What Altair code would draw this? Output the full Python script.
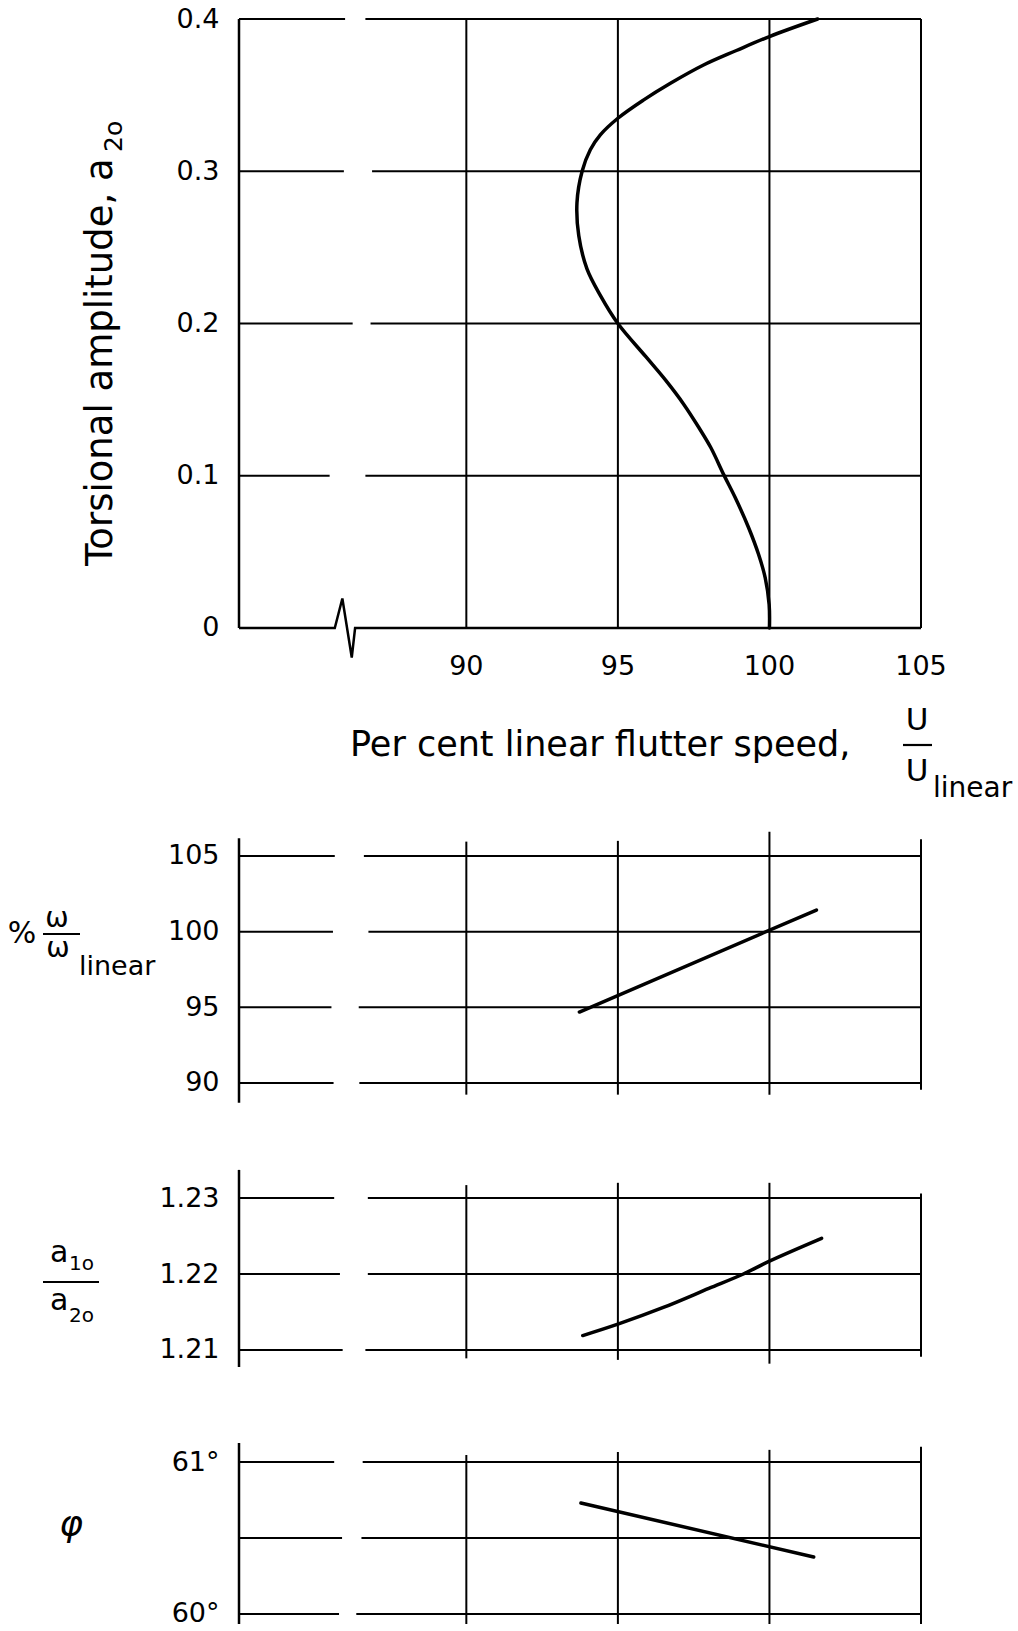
import altair as alt
import pandas as pd

FONT = "DejaVu Sans"

# ---------------- shared x (per cent linear flutter speed) ----------------
X_DOMAIN = [82.5, 105.0]
X_GRID = [90, 95, 100, 105]
X_TICK_TEXT = ["90", "95", "100", "105"]

# ---------------- panel 1: torsional amplitude ----------------
AMP_SPEED = [100.0, 99.99, 99.86, 99.64, 99.31, 98.87, 98.5, 98.06, 97.66, 97.17,
             96.58, 95.93, 95.0, 94.42, 93.98, 93.71, 93.65, 93.82, 94.09, 94.42,
             95.0, 95.84, 96.72, 97.81, 98.91, 100.0, 101.59]
AMP_VALUE = [0.0, 0.0154, 0.033, 0.0484, 0.066, 0.0857, 0.1004, 0.1187, 0.132, 0.147,
             0.1626, 0.178, 0.2, 0.2185, 0.2359, 0.2576, 0.2793, 0.3, 0.3141, 0.3239,
             0.3348, 0.3467, 0.3576, 0.3696, 0.3793, 0.3885, 0.4]
AMP_DOMAIN = [-0.11626, 0.41248]
AMP_TICKS = [0, 0.1, 0.2, 0.3, 0.4]
AMP_TICK_TEXT = ["0", "0.1", "0.2", "0.3", "0.4"]
AMP_HGRID = [0.1, 0.2, 0.3, 0.4]
AMP_GAP_L = [85.49, 86.25, 85.96, 86.0]
AMP_GAP_R = [86.67, 86.84, 86.89, 86.67]
AMP_VTOP = [0.4, 0.4, 0.4, 0.4]
AMP_VBOT = [0.0, 0.0, 0.0, 0.0]
AMP_AXIS = [0.0, 0.4]
BREAK_X = [82.5, 85.66, 85.91, 86.22, 86.33, 105.0]
BREAK_Y = [0.0, 0.0, 0.0194, -0.0194, 0.0, 0.0]

# ---------------- panel 2: frequency ratio ----------------
OM_SPEED = [93.73, 101.55]
OM_VALUE = [94.69, 101.43]
OM_DOMAIN = [86.894, 108.370]
OM_TICKS = [90, 95, 100, 105]
OM_TICK_TEXT = ["90", "95", "100", "105"]
OM_GAP_L = [85.62, 85.55, 85.6, 85.66]
OM_GAP_R = [86.47, 86.45, 86.77, 86.62]
OM_VTOP = [105.95, 106.0, 106.6, 106.1]
OM_VBOT = [89.23, 89.23, 89.23, 89.56]
OM_AXIS = [88.7, 106.17]

# ---------------- panel 3: amplitude ratio ----------------
AR_SPEED = [93.84, 95.0, 96.5, 98.0, 99.14, 100.0, 101.72]
AR_VALUE = [1.2119, 1.2134, 1.2156, 1.2181, 1.22, 1.2217, 1.2247]
AR_DOMAIN = [1.20342, 1.23895]
AR_TICKS = [1.21, 1.22, 1.23]
AR_TICK_TEXT = ["1.21", "1.22", "1.23"]
AR_GAP_L = [85.92, 85.83, 85.64]
AR_GAP_R = [86.67, 86.75, 86.75]
AR_VTOP = [1.2317, 1.232, 1.232, 1.2306]
AR_VBOT = [1.2089, 1.2087, 1.2082, 1.2091]
AR_AXIS = [1.20776, 1.2337]

# ---------------- panel 4: phase angle ----------------
PH_SPEED = [93.78, 101.46]
PH_VALUE = [60.73, 60.375]
PH_DOMAIN = [59.934, 61.408]
PH_HGRID = [60.0, 60.5, 61.0]
PH_TICKS = [60, 61]
PH_TICK_TEXT = ["60°", "61°"]
PH_GAP_L = [85.8, 85.9, 85.64]
PH_GAP_R = [86.37, 86.54, 86.58]
PH_VTOP = [61.046, 61.066, 61.08, 61.1]
PH_VBOT = [59.934, 59.934, 59.934, 59.934]
PH_AXIS = [59.934, 61.125]

WIDTH = 682
GRID_W = 2.0
AXIS_W = 2.5
CURVE_W = 3.5


def label_expr(values, texts):
    expr = "''"
    for v, t in reversed(list(zip(values, texts))):
        expr = f"datum.value == {v} ? '{t}' : ({expr})"
    return expr


def xenc(field="x"):
    return alt.X(f"{field}:Q", scale=alt.Scale(domain=X_DOMAIN, nice=False, zero=False),
                 axis=None, title=None)


def yenc(domain, ticks, texts, field="y"):
    return alt.Y(f"{field}:Q", scale=alt.Scale(domain=domain, nice=False, zero=False),
                 axis=alt.Axis(values=ticks, labelExpr=label_expr(ticks, texts), domain=False,
                               ticks=False, grid=False, labelFont=FONT, labelFontSize=27,
                               labelPadding=20, labelColor="black", title=None),
                 title=None)


def text_layer(text, x, y, size, align="center", angle=None, baseline="middle", style=None):
    kw = dict(font=FONT, fontSize=size, align=align, baseline=baseline, color="black")
    if angle is not None:
        kw["angle"] = angle
    if style is not None:
        kw["fontStyle"] = style
    return alt.Chart(pd.DataFrame({"t": [text]})).mark_text(**kw).encode(
        x=alt.value(x), y=alt.value(y), text="t:N")


def bar_layer(x1, x2, y):
    return alt.Chart(pd.DataFrame({"k": [0]})).mark_rule(color="black", strokeWidth=2.2).encode(
        x=alt.value(x1), x2=alt.value(x2), y=alt.value(y))


def panel(domain, ticks, texts, hgrid, gl, gr, vtop, vbot, axis_span, sx, sy, height, extra,
          interp="linear"):
    rows = []
    for v, a, b in zip(hgrid, gl, gr):
        rows.append({"x": X_DOMAIN[0], "x2": a, "y": v})
        rows.append({"x": b, "x2": X_DOMAIN[1], "y": v})
    hg = alt.Chart(pd.DataFrame(rows)).mark_rule(color="black", strokeWidth=GRID_W).encode(
        x=xenc(), x2="x2:Q", y=yenc(domain, ticks, texts))
    vg = alt.Chart(pd.DataFrame({"x": X_GRID, "y": vbot, "y2": vtop})).mark_rule(
        color="black", strokeWidth=GRID_W).encode(x=xenc(), y=yenc(domain, ticks, texts), y2="y2:Q")
    ax = alt.Chart(pd.DataFrame({"x": [X_DOMAIN[0]], "y": [axis_span[0]], "y2": [axis_span[1]]})).mark_rule(
        color="black", strokeWidth=AXIS_W).encode(x=xenc(), y=yenc(domain, ticks, texts), y2="y2:Q")
    cv = alt.Chart(pd.DataFrame({"x": sx, "y": sy, "i": list(range(len(sx)))})).mark_line(
        color="black", strokeWidth=CURVE_W, strokeCap="round", interpolate=interp).encode(
        x=xenc(), y=yenc(domain, ticks, texts), order=alt.Order("i:Q"))
    layers = [hg, vg, ax, cv] + extra
    return alt.layer(*layers).properties(width=WIDTH, height=height)


# ---- panel 1 extras ----
brk = alt.Chart(pd.DataFrame({"x": BREAK_X, "y": BREAK_Y, "i": list(range(len(BREAK_X)))})).mark_line(
    color="black", strokeWidth=AXIS_W, strokeJoin="miter").encode(
    x=xenc(), y=yenc(AMP_DOMAIN, AMP_TICKS, AMP_TICK_TEXT), order=alt.Order("i:Q"))
xticks = alt.Chart(pd.DataFrame({"x": X_GRID, "t": X_TICK_TEXT})).mark_text(
    font=FONT, fontSize=27, align="center", baseline="middle", color="black").encode(
    x=xenc(), y=alt.value(667), text="t:N")
left_marker = alt.Chart(pd.DataFrame({"k": [0]})).mark_rule(color="white", strokeWidth=1).encode(
    x=alt.value(-238.5), y=alt.value(400), y2=alt.value(401))
p1_extra = [
    brk, xticks, left_marker,
    text_layer("Torsional amplitude, a", -127, 566, 37, align="left", angle=270, baseline="alphabetic"),
    text_layer("2o", -117, 152, 25, align="left", angle=270, baseline="alphabetic"),
    text_layer("Per cent linear flutter speed,", 111, 745, 35, align="left"),
    text_layer("U", 678, 721, 31),
    bar_layer(664, 693, 745),
    text_layer("U", 678, 772, 31),
    text_layer("linear", 694, 789, 28, align="left"),
]
p1 = panel(AMP_DOMAIN, AMP_TICKS, AMP_TICK_TEXT, AMP_HGRID, AMP_GAP_L, AMP_GAP_R,
           AMP_VTOP, AMP_VBOT, AMP_AXIS, AMP_SPEED, AMP_VALUE, 805, p1_extra,
           interp="catmull-rom")

p2_extra = [
    text_layer("%", -217, 129, 30),
    text_layer("ω", -182, 114, 28),
    bar_layer(-196, -159, 129),
    text_layer("ω", -181, 144, 28),
    text_layer("linear", -160, 162, 27, align="left"),
]
p2 = panel(OM_DOMAIN, OM_TICKS, OM_TICK_TEXT, OM_TICKS, OM_GAP_L, OM_GAP_R,
           OM_VTOP, OM_VBOT, OM_AXIS, OM_SPEED, OM_VALUE, 325, p2_extra)

p3_extra = [
    text_layer("a", -189, 132, 30, align="left", baseline="alphabetic"),
    text_layer("1o", -170, 140, 20, align="left", baseline="alphabetic"),
    bar_layer(-196, -140, 152),
    text_layer("a", -189, 180, 30, align="left", baseline="alphabetic"),
    text_layer("2o", -170, 192, 20, align="left", baseline="alphabetic"),
]
p3 = panel(AR_DOMAIN, AR_TICKS, AR_TICK_TEXT, AR_TICKS, AR_GAP_L, AR_GAP_R,
           AR_VTOP, AR_VBOT, AR_AXIS, AR_SPEED, AR_VALUE, 270, p3_extra,
           interp="catmull-rom")

p4_extra = [
    text_layer("φ", -168, 125, 36, style="italic"),
]
p4 = panel(PH_DOMAIN, PH_TICKS, PH_TICK_TEXT, PH_HGRID, PH_GAP_L, PH_GAP_R,
           PH_VTOP, PH_VBOT, PH_AXIS, PH_SPEED, PH_VALUE, 224, p4_extra)

chart = alt.vconcat(p1, p2, p3, p4, spacing=0).properties(
    padding=0, background="white").configure_view(stroke=None)

chart.save("out.html", embed_options={"renderer": "svg", "actions": False})
